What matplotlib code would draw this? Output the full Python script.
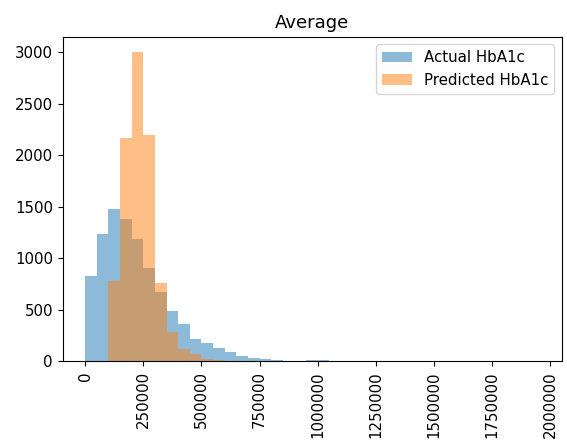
import numpy as np
import matplotlib
matplotlib.use("Agg")
import matplotlib.pyplot as plt

plt.rcParams["font.size"] = 10.8

# histogram counts per 50000-wide bin
bin_width = 50000
actual_counts = [833, 1237, 1476, 1379, 1185, 908, 669, 486, 363, 214, 178, 126,
                 88, 56, 30, 26, 10, 4, 3, 10, 10, 2, 1, 1]
predicted_counts = [0, 0, 782, 2164, 2995, 2200, 765, 284, 118, 72, 20, 10, 3, 1]
n_bins = 40

edges = np.arange(n_bins + 1) * bin_width
actual = np.zeros(n_bins)
actual[:len(actual_counts)] = actual_counts
predicted = np.zeros(n_bins)
predicted[:len(predicted_counts)] = predicted_counts

fig = plt.figure(figsize=(5.67, 4.43), dpi=100)
ax = fig.add_axes([0.1106, 0.184, 0.88, 0.7336])

ax.hist(edges[:-1], bins=edges, weights=actual, alpha=0.5, label="Actual HbA1c")
ax.hist(edges[:-1], bins=edges, weights=predicted, alpha=0.5, label="Predicted HbA1c")

ax.set_xlim(-97000, 2050000)
ax.set_ylim(0, 3150)
ax.set_xticks(np.arange(0, 2000001, 250000))
ax.set_xticklabels([str(v) for v in range(0, 2000001, 250000)], rotation=90)
ax.set_title("Average")
ax.legend(loc="upper right")

fig.savefig("out.png")
